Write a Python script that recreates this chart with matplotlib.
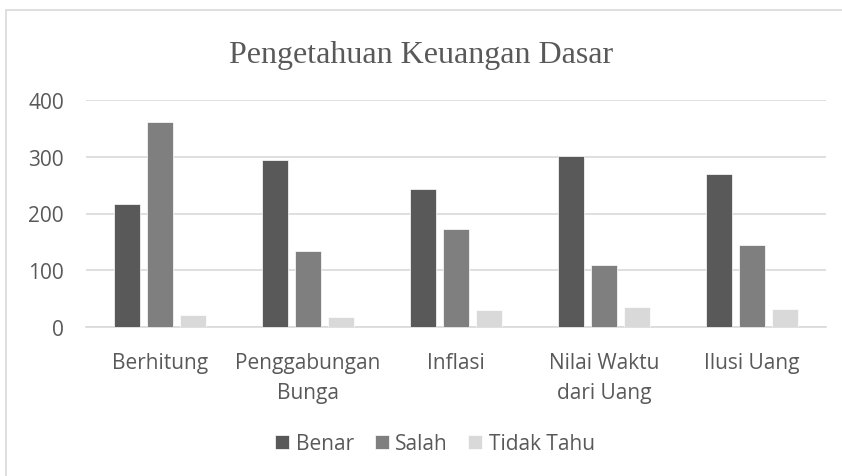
import numpy as np
import matplotlib
matplotlib.use("Agg")
import matplotlib.pyplot as plt
from matplotlib.patches import Rectangle

# data
categories = ["Berhitung", "Penggabungan\nBunga", "Inflasi", "Nilai Waktu\ndari Uang", "Ilusi Uang"]
benar = [216, 294, 244, 301, 270]
salah = [361, 134, 172, 110, 145]
tidak_tahu = [21, 17, 30, 35, 32]
series_names = ["Benar", "Salah", "Tidak Tahu"]
colors = ["#595959", "#7f7f7f", "#d9d9d9"]
text_col = "#595959"

W, H = 842, 477
fig = plt.figure(figsize=(W / 100, H / 100), dpi=100)

# chart frame (extends past the right/bottom edge in the reference)
fig.patches.append(Rectangle((6 / W, -0.1), 1.1, 1 - 11 / H + 0.1, transform=fig.transFigure,
                             fill=False, edgecolor="#d9d9d9", linewidth=1.2))

ax = fig.add_axes([86 / W, 1 - 328 / H, (826 - 86) / W, (328 - 101) / H])
x = np.arange(len(categories)) + 0.5
bw = 0.175
step = 0.223
for i, (vals, name) in enumerate(zip([benar, salah, tidak_tahu], series_names)):
    ax.bar(x + (i - 1) * step, vals, width=bw, color=colors[i], label=name,
           edgecolor="white", linewidth=0.5, zorder=3)

ax.set_xlim(0, len(categories))
ax.set_ylim(0, 400)
ax.set_yticks([0, 100, 200, 300, 400])
ax.grid(axis="y", color="#d9d9d9", linewidth=1.2, zorder=0)
for s in ["top", "right", "left"]:
    ax.spines[s].set_visible(False)
ax.spines["bottom"].set_color("#d9d9d9")
ax.spines["bottom"].set_linewidth(1.2)
ax.tick_params(axis="both", length=0, labelsize=15, labelcolor=text_col)
ax.tick_params(axis="y", pad=16)
ax.tick_params(axis="x", pad=18)
ax.set_xticks(x)
ax.set_xticklabels(categories, fontfamily="Open Sans", linespacing=1.55)
for lab in ax.get_yticklabels():
    lab.set_fontfamily("Open Sans")

fig.text(0.5, 1 - 56 / H, "Pengetahuan Keuangan Dasar", ha="center", va="center",
         fontsize=23, color=text_col, fontfamily="Liberation Serif")

leg = fig.legend(loc="center", bbox_to_anchor=(0.5 + 14 / W, 1 - 445 / H), ncol=3, frameon=False,
                 prop={"family": "Open Sans", "size": 15}, handlelength=0.67, handleheight=0.67,
                 handletextpad=0.3, columnspacing=1.0)
for t in leg.get_texts():
    t.set_color(text_col)

fig.savefig("out.png", dpi=100)
